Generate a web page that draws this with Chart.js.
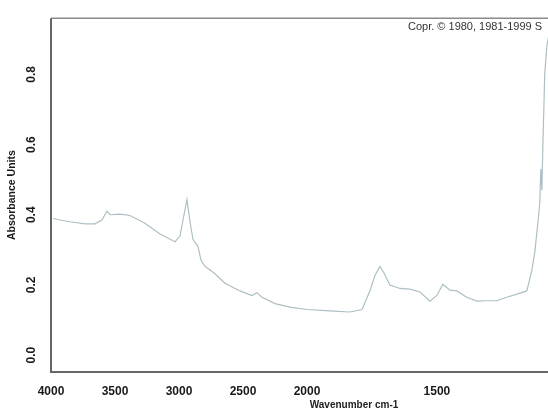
<!DOCTYPE html>
<html>
<head>
<meta charset="utf-8">
<script src="https://cdn.jsdelivr.net/npm/chart.js@4.4.0/dist/chart.umd.min.js"></script>
<style>
    body { margin: 0; background: #ffffff; }
    #wrap { width: 548px; height: 412px; }
</style>
</head>
<body>
<div id="wrap"><canvas id="irChart" width="548" height="412"></canvas></div>
<script>
// Spectrum values (wavenumber cm-1 / absorbance)
const wavenumbers = [3984, 3930, 3852, 3734, 3656, 3602, 3563, 3539, 3461, 3383, 3266, 3148, 3031, 2992,
    2961, 2938, 2914, 2891, 2852, 2828, 2797, 2719, 2641, 2523, 2430, 2391, 2352, 2250, 2133, 2000,
    1912, 1835, 1788, 1758, 1738, 1719, 1704, 1681, 1642, 1604, 1565, 1527, 1500, 1477, 1450, 1423,
    1385, 1346, 1308, 1269, 1231, 1192, 1154, 1135, 1123, 1111, 1104, 1100, 1096, 1092, 1085, 1077, 1065];
const absorbance = [0.39, 0.385, 0.38, 0.374, 0.374, 0.385, 0.41, 0.40, 0.402, 0.398, 0.376, 0.345, 0.323, 0.34,
    0.40, 0.443, 0.38, 0.33, 0.31, 0.27, 0.253, 0.232, 0.205, 0.183, 0.17, 0.178, 0.165, 0.147, 0.137, 0.13,
    0.126, 0.123, 0.13, 0.183, 0.228, 0.253, 0.235, 0.20, 0.19, 0.188, 0.18, 0.154, 0.17, 0.202, 0.185, 0.183,
    0.165, 0.154, 0.155, 0.155, 0.165, 0.174, 0.183, 0.24, 0.295, 0.38, 0.435, 0.53, 0.47, 0.60, 0.80, 0.88, 0.93];

const xTickLabels = [4000, 3500, 3000, 2500, 2000, 1500];
const yTickValues = [0.0, 0.2, 0.4, 0.6, 0.8];

// The instrument doubles the scale below 2000 cm-1
function toAxis(w) {
    return w >= 2000 ? 4000 - w : 2000 + (2000 - w) * 2.03;
}

const points = wavenumbers.map((w, i) => ({ x: toAxis(w), y: absorbance[i] }));

const framePlugin = {
    id: 'frame',
    afterDraw(chart) {
        const ctx = chart.ctx;
        const a = chart.chartArea;
        ctx.save();
        ctx.strokeStyle = '#8a8a8a';
        ctx.lineWidth = 1.5;
        ctx.beginPath();
        ctx.moveTo(a.right, a.top);
        ctx.lineTo(a.left, a.top);
        ctx.stroke();
        ctx.strokeStyle = '#666666';
        ctx.lineWidth = 2;
        ctx.beginPath();
        ctx.moveTo(a.left, a.top);
        ctx.lineTo(a.left, a.bottom);
        ctx.lineTo(a.right, a.bottom);
        ctx.stroke();

        ctx.fillStyle = '#222222';
        ctx.font = 'bold 10px "Liberation Sans", Arial, sans-serif';
        ctx.textAlign = 'center';
        ctx.textBaseline = 'middle';
        ctx.fillText('Wavenumber cm-1', a.left + 303, 405);

        ctx.font = '11px "Liberation Sans", Arial, sans-serif';
        ctx.textAlign = 'left';
        ctx.fillStyle = '#333333';
        ctx.fillText('Copr. \u00A9 1980, 1981-1999 S', a.left + 357, 27);
        ctx.restore();
    }
};

new Chart(document.getElementById('irChart'), {
    type: 'line',
    data: {
        datasets: [{
            data: points,
            borderColor: '#aebfc4',
            borderWidth: 1.2,
            pointRadius: 0,
            tension: 0,
            fill: false
        }]
    },
    options: {
        responsive: false,
        animation: false,
        layout: { padding: { top: 13, right: 0, bottom: 0, left: 0 } },
        plugins: {
            legend: { display: false },
            tooltip: { enabled: false }
        },
        scales: {
            x: {
                type: 'linear',
                min: 0,
                max: 3883,
                grid: { display: false, drawTicks: false },
                border: { display: false },
                afterBuildTicks(scale) {
                    scale.ticks = xTickLabels.map(w => ({ value: toAxis(w) }));
                },
                afterFit(scale) { scale.height = 40; },
                ticks: {
                    padding: 12,
                    maxRotation: 0,
                    color: '#1a1a1a',
                    font: { family: '"Liberation Sans", Arial, sans-serif', size: 12, weight: 'bold' },
                    callback: (v, i) => String(xTickLabels[i])
                }
            },
            y: {
                type: 'linear',
                min: -0.048,
                max: 0.96,
                grid: { display: false, drawTicks: false },
                border: { display: false },
                afterBuildTicks(scale) {
                    scale.ticks = yTickValues.map(v => ({ value: v }));
                },
                afterFit(scale) { scale.width = 51; },
                title: {
                    display: true,
                    text: 'Absorbance Units',
                    color: '#1a1a1a',
                    padding: { top: 6, bottom: 0 },
                    font: { family: '"Liberation Sans", Arial, sans-serif', size: 10.5, weight: 'bold' }
                },
                ticks: {
                    minRotation: 90,
                    maxRotation: 90,
                    crossAlign: 'center',
                    padding: 11,
                    color: '#1a1a1a',
                    font: { family: '"Liberation Sans", Arial, sans-serif', size: 12, weight: 'bold' },
                    callback: (v) => v.toFixed(1)
                }
            }
        }
    },
    plugins: [framePlugin]
});
</script>
</body>
</html>
